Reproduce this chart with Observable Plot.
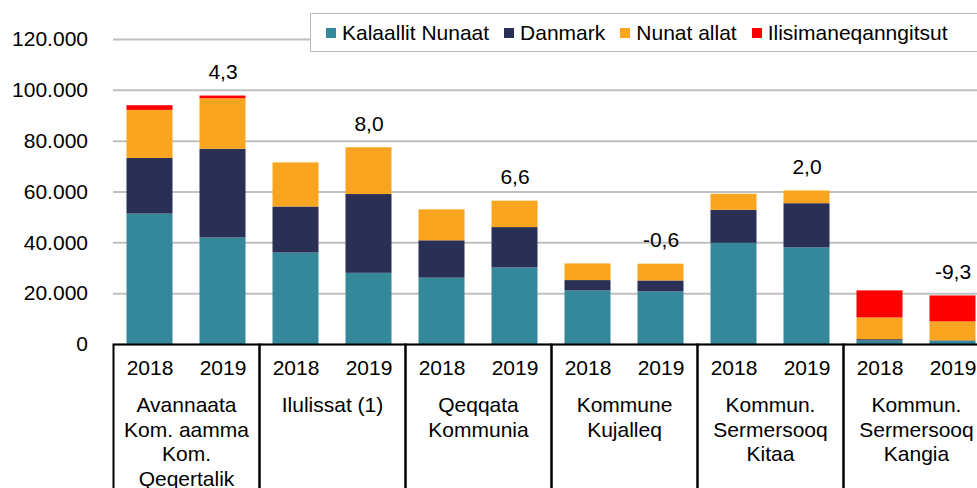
<!DOCTYPE html>
<html><head><meta charset="utf-8">
<script src="https://cdn.jsdelivr.net/npm/d3@7"></script>
<script src="https://cdn.jsdelivr.net/npm/@observablehq/plot@0.6"></script>
<style>
html,body{margin:0;padding:0;background:#fff;overflow:hidden;width:977px;height:488px}
#wrap{position:relative;width:977px;height:488px;overflow:hidden;font-family:"Liberation Sans",Arial,sans-serif}
#charts svg{display:block;max-width:none !important}
#legend{position:absolute;left:310px;top:13px;width:720px;height:39px;border:1.5px solid #b8b8b8;background:#fff;display:flex;align-items:center;padding-left:15px;box-sizing:border-box;font-size:21px;color:#000;white-space:nowrap}
.item{display:flex;align-items:center;margin-right:15px}
.sw{width:10px;height:10px;margin-right:6px;flex:none}
</style></head><body><div id="wrap"><div id="charts"></div><div id="legend"></div></div>
<script>
const groupNames = [
  "Avannaata\nKom. aamma\nKom.\nQeqertalik",
  "Ilulissat (1)",
  "Qeqqata\nKommunia",
  "Kommune\nKujalleq",
  "Kommun.\nSermersooq\nKitaa",
  "Kommun.\nSermersooq\nKangia"
];
const years = ["2018", "2019"];
const seriesNames = ["Kalaallit Nunaat", "Danmark", "Nunat allat", "Ilisimaneqanngitsut"];
const seriesColors = ["#35879a", "#2a2f56", "#faa51f", "#ff0000"];
// values per bar: group1 2018, group1 2019, group2 2018, ...
const kalaallitNunaat     = [51300, 41900, 36000, 28000, 26100, 30100, 21100, 20700, 39800, 38000, 1400, 1300];
const danmark             = [21900, 34900, 18100, 31000, 14700, 15900,  4050,  4300, 13000, 17400,  500,  150];
const nunatAllat          = [18900, 19900, 17350, 18400, 12200, 10400,  6550,  6600,  6300,  5000, 8550, 7450];
const ilisimaneqanngitsut = [ 1850,  1050,     0,     0,     0,     0,     0,     0,     0,     0, 10650, 10200];
const changePct = [4.3, 8.0, 6.6, -0.6, 2.0, -9.3];
const yTicks = [0, 20000, 40000, 60000, 80000, 100000, 120000];

const seriesValues = [kalaallitNunaat, danmark, nunatAllat, ilisimaneqanngitsut];
const rows = [];
const yearRows = [];
groupNames.forEach((g, gi) => years.forEach((yr, yi) => {
  const i = gi * 2 + yi;
  yearRows.push({group: g, year: yr});
  seriesNames.forEach((s, si) => rows.push({group: g, year: yr, series: s, value: seriesValues[si][i]}));
}));
const labels = groupNames.map((g, gi) => ({
  group: g, year: years[1],
  total: d3.sum(seriesValues, v => v[gi * 2 + 1]),
  text: changePct[gi].toFixed(1).replace(".", ",")
}));

const font = '"Liberation Sans", Arial, sans-serif';
const FS = 21;
const common = {
  width: 991, marginLeft: 111.5, marginRight: 0,
  fx: {domain: groupNames, padding: 0, axis: null, label: null},
  x: {domain: years, paddingInner: 0.375, paddingOuter: 0.1875, axis: null, label: null},
  style: {fontFamily: font, fontSize: FS + "px", color: "#000", background: "transparent", overflow: "visible", maxWidth: "none"}
};

const topPlot = Plot.plot({
  ...common,
  height: 344, marginTop: 39, marginBottom: 0,
  y: {domain: [0, 120000], label: null},
  color: {domain: seriesNames, range: seriesColors},
  marks: [
    Plot.gridY(yTicks, {stroke: "#c0c0c0", strokeWidth: 2, strokeOpacity: 1}),
    Plot.axisY(yTicks, {tickSize: 0, tickPadding: 25.5, fontSize: FS, label: null,
      tickFormat: d => d3.format(",")(d).replace(/,/g, ".")}),
    Plot.barY(rows, {fx: "group", x: "year", y: "value", fill: "series"}),
    Plot.text(labels, {fx: "group", x: "year", y: "total", text: "text", dy: -24, fontSize: FS, fill: "#000"})
  ]
});

const bottomPlot = Plot.plot({
  ...common,
  height: 160, marginTop: 0, marginBottom: 0,
  marks: [
    Plot.frame({stroke: "#000", strokeWidth: 2}),
    Plot.text(yearRows, {fx: "group", x: "year", text: "year", frameAnchor: "top", dy: 15.5, fontSize: FS, fill: "#000"}),
    Plot.text(groupNames, {fx: d => d, text: d => d, frameAnchor: "top", dy: 50, lineAnchor: "top", lineHeight: 1.17, fontSize: FS, fill: "#000"})
  ]
});

const charts = document.getElementById("charts");
charts.appendChild(topPlot);
charts.appendChild(bottomPlot);

const legend = document.getElementById("legend");
seriesNames.forEach((s, i) => {
  const item = document.createElement("div");
  item.className = "item";
  const sw = document.createElement("span");
  sw.className = "sw";
  sw.style.background = seriesColors[i];
  const t = document.createElement("span");
  t.textContent = s;
  item.appendChild(sw); item.appendChild(t);
  legend.appendChild(item);
});
</script></body></html>
